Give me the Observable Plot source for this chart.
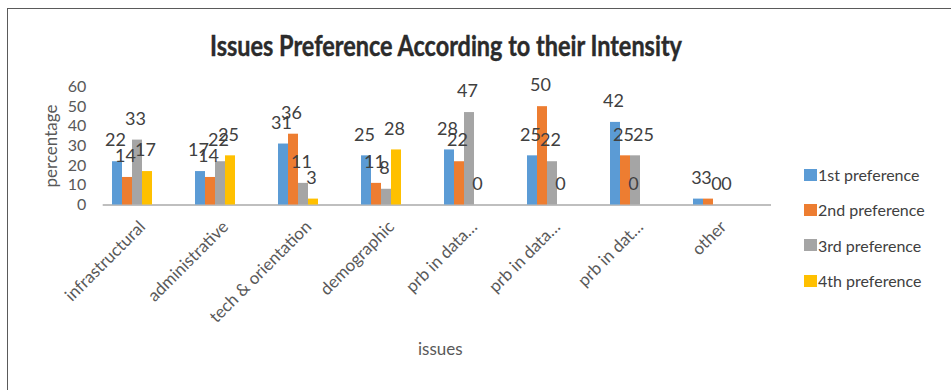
<!DOCTYPE html>
<html><head><meta charset="utf-8">
<script src="https://cdn.jsdelivr.net/npm/d3@7"></script>
<script src="https://cdn.jsdelivr.net/npm/@observablehq/plot@0.6"></script>
<style>
body{margin:0;background:#fff;font-family:Lato,"Open Sans",sans-serif;}
#wrap{position:relative;width:951px;height:390px;overflow:hidden;background:#fff;}
#chart{position:absolute;left:0;top:0;}
#frame{position:absolute;left:7px;top:8px;width:980px;height:420px;border-top:1.5px solid #5a5a5a;border-left:1.5px solid #5a5a5a;pointer-events:none;}
#title{position:absolute;top:31px;left:210px;white-space:nowrap;font-weight:700;font-size:28px;line-height:1;color:#2b2b2b;transform-origin:0 0;-webkit-text-stroke:0.4px #2b2b2b;}
#legend{position:absolute;left:804px;top:157px;}
.item{display:flex;align-items:center;height:35.3px;font-size:16px;color:#404040;white-space:nowrap;}
.sw{width:13px;height:12px;margin-right:1px;}
</style></head>
<body>
<div id="wrap">
  <div id="chart"></div>
  <div id="frame"></div>
  <div id="title">Issues Preference According to their Intensity</div>
  <div id="legend"></div>
</div>
<script>
const categories = ["infrastructural","administrative","tech & orientation","demographic","prb in data…","prb in data…","prb in dat…","other"];
const seriesNames = ["1st preference","2nd preference","3rd preference","4th preference"];
const colors = ["#5B9BD5","#ED7D31","#A5A5A5","#FFC000"];
const pref1 = [22,17,31,25,28,25,42,3];
const pref2 = [14,14,36,11,22,50,25,3];
const pref3 = [33,22,11,8,47,22,25,0];
const pref4 = [17,25,3,28,0,0,0,0];
// data labels as printed on the original chart
const label1 = [22,17,31,25,28,25,42,3];
const label2 = [14,14,36,11,22,50,25,3];
const label3 = [33,22,11,8,47,22,0,0];
const label4 = [17,25,3,28,0,0,25,0];
const yTicks = [0,10,20,30,40,50,60];

const values = [pref1,pref2,pref3,pref4];
const labels = [label1,label2,label3,label4];
const offsets = [-15,-5,5,15];
const rows = [];
categories.forEach((c,i)=>{
  values.forEach((arr,s)=>rows.push({i, s, value: arr[i], label: labels[s][i]}));
});

const marks = [
  Plot.ruleY([0], {stroke:"#bfbfbf", strokeWidth:2, dx:14}),
];
seriesNames.forEach((name,s)=>{
  marks.push(Plot.barY(rows.filter(d=>d.s===s), {x:"i", y:"value", fill:colors[s], dx:offsets[s]}));
});
seriesNames.forEach((name,s)=>{
  marks.push(Plot.text(rows.filter(d=>d.s===s), {x:"i", y:"label", text:d=>String(d.label), dx:offsets[s]-2, dy:-21, fontSize:18, fill:"#404040"}));
});
marks.push(
  Plot.axisY({ticks:yTicks, tickSize:0, tickPadding:3, fontSize:16, color:"#595959", label:null}),
  Plot.axisX({tickFormat:i=>categories[i], tickRotate:-45, tickSize:0, tickPadding:19, fontSize:17, color:"#595959", label:null, dx:10}),
  Plot.text(["percentage"], {text:d=>d, frameAnchor:"left", textAnchor:"middle", dx:-38, rotate:-90, fontSize:17, fill:"#595959"}),
  Plot.text(["issues"], {text:d=>d, frameAnchor:"bottom", dx:17, dy:150, fontSize:17, fill:"#595959"})
);

const chart = Plot.plot({
  width:951, height:390,
  marginTop:86.5, marginBottom:185.5, marginLeft:88.7, marginRight:194,
  style:{fontFamily:"Lato, 'Open Sans', sans-serif", background:"white", overflow:"visible"},
  x:{type:"band", domain:categories.map((_,i)=>i), paddingInner:0.88, paddingOuter:0.44, axis:null},
  y:{domain:[0,60], axis:null},
  marks
});
document.getElementById("chart").appendChild(chart);

const legend = document.getElementById("legend");
seriesNames.forEach((name,s)=>{
  const it = document.createElement("div"); it.className="item";
  const sw = document.createElement("span"); sw.className="sw"; sw.style.background=colors[s];
  const tx = document.createElement("span"); tx.textContent=name;
  it.appendChild(sw); it.appendChild(tx); legend.appendChild(it);
});

const title = document.getElementById("title");
const w = title.getBoundingClientRect().width;
title.style.transform = `scaleX(${472/w})`;
</script>
</body></html>
